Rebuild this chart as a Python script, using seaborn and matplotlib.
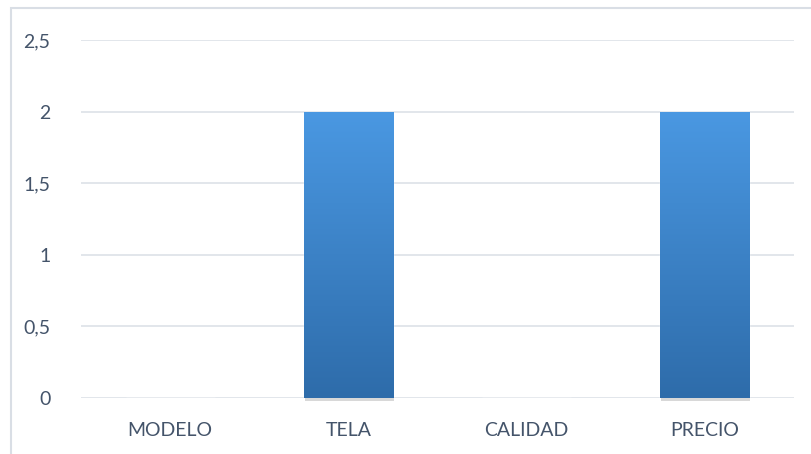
import numpy as np
import pandas as pd
import matplotlib
matplotlib.use("Agg")
import matplotlib.pyplot as plt
import seaborn as sns
from matplotlib.patches import Rectangle

categories = ["MODELO", "TELA", "CALIDAD", "PRECIO"]
values = [0, 2, 0, 2]
yticks = [0, 0.5, 1, 1.5, 2, 2.5]
ytick_labels = ["0", "0,5", "1", "1,5", "2", "2,5"]

sns.set_style("white")
plt.rcParams['font.family'] = ['Lato', 'DejaVu Sans']

W, H = 811, 454
fig = plt.figure(figsize=(W / 100, H / 100), dpi=100)
fig.patch.set_facecolor("white")

# chart border (cropped at right/bottom)
fig.patches.append(Rectangle((11 / W, -0.05), 1.1, 1 - 8 / H + 0.05,
                             transform=fig.transFigure, fill=False,
                             edgecolor="#D9DEE5", linewidth=1.5, zorder=0))

ax = fig.add_axes([81 / W, 1 - 398 / H, (794 - 81) / W, (398 - 40) / H])
df = pd.DataFrame({"cat": categories, "val": values})
sns.barplot(data=df, x="cat", y="val", ax=ax, width=0.5, color="#3F86CF",
            saturation=1, zorder=3)

ax.set_ylim(0, 2.5)
ax.set_xlim(-0.5, len(categories) - 0.5)
ax.set_yticks(yticks)
ax.set_yticklabels(ytick_labels)
ax.set_xlabel("")
ax.set_ylabel("")
for s in ax.spines.values():
    s.set_visible(False)
ax.grid(axis="y", color="#DDE2E8", linewidth=1.2, zorder=0)
ax.set_axisbelow(True)
ax.tick_params(axis="both", length=0, labelsize=14, colors="#44546A")
ax.tick_params(axis="y", pad=22)
ax.tick_params(axis="x", pad=17)

# gradient fill for bars, plus soft shadow
grad = np.linspace(0, 1, 256).reshape(-1, 1)
top = np.array([74, 152, 226]) / 255
bot = np.array([46, 108, 170]) / 255
img = top[None, None, :] * (1 - grad[:, :, None]) + bot[None, None, :] * grad[:, :, None]
for p in list(ax.patches):
    h = p.get_height()
    if h <= 0:
        continue
    x0 = p.get_x()
    w = p.get_width()
    sh = Rectangle((x0 + 0.005, -0.02), w, h + 0.01, facecolor="#BFBFBF",
                   edgecolor="none", alpha=0.6, zorder=2, clip_on=False)
    ax.add_patch(sh)
    im = ax.imshow(img, extent=(x0, x0 + w, 0, h), aspect="auto", zorder=4,
                   origin="upper")
    im.set_clip_path(p)

ax.set_xlim(-0.5, len(categories) - 0.5)
ax.set_ylim(0, 2.5)

fig.savefig("out.png", dpi=100, facecolor="white")
